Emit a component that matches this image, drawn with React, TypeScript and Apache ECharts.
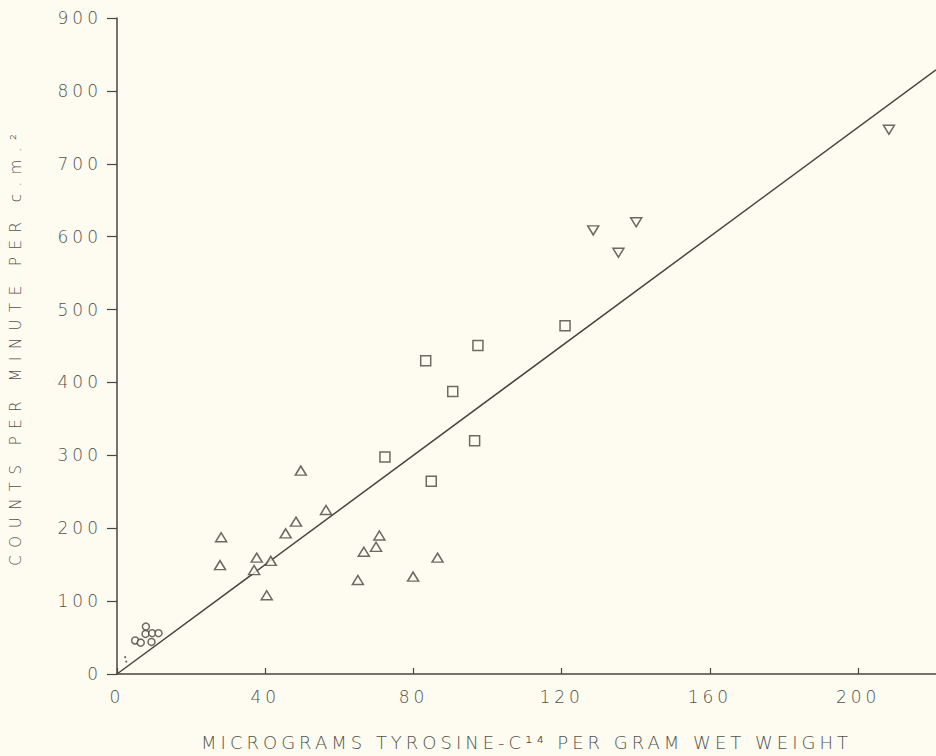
import React, { useEffect, useRef } from "react";
import * as echarts from "echarts";

const xTicks = [0, 40, 80, 120, 160, 200];
const yTicks = [0, 100, 200, 300, 400, 500, 600, 700, 800, 900];

const circleGroup: [number, number][] = [
  [7.8, 65], [7.7, 55], [9.5, 56], [11.2, 56], [4.9, 46], [6.4, 43], [9.3, 44],
];
const tinyDots: [number, number][] = [
  [2.2, 23], [2.5, 17],
];
const triangleGroup: [number, number][] = [
  [49.6, 279], [56.4, 225], [48.3, 209], [45.5, 193], [28.1, 187.6], [27.8, 149.4],
  [37.7, 159.6], [41.5, 155.2], [37.0, 142.6], [40.4, 108], [70.8, 190], [69.9, 174.5],
  [66.6, 167.7], [65.0, 129], [79.9, 133.6], [86.5, 159.6],
];
const squareGroup: [number, number][] = [
  [83.3, 429.6], [97.4, 450.7], [90.6, 387.7], [72.3, 297.8], [96.5, 320], [84.8, 264.5],
  [120.9, 477.7],
];
const invTriangleGroup: [number, number][] = [
  [128.5, 608.6], [140.1, 619.8], [135.3, 578], [208.3, 746.7],
];
const fitLine: [number, number][] = [
  [0, 0], [221, 829],
];

const BG = "#fefcf0";
const INK = "#464642";
const TXT = "#52524e";
const FONT = "DejaVu Sans";

export default function App() {
  const ref = useRef<HTMLDivElement>(null);
  useEffect(() => {
    if (!ref.current) return;
    const chart = echarts.init(ref.current, null, { renderer: "svg" });
    const markerStyle = {
      color: BG,
      borderColor: INK,
      borderWidth: 1.5,
    };
    chart.setOption({
      animation: false,
      backgroundColor: BG,
      grid: { left: 117, right: 0, top: 18, bottom: 71, containLabel: false },
      xAxis: {
        type: "value",
        min: 0,
        max: 221,
        interval: 40,
        name: "MICROGRAMS TYROSINE-C¹⁴ PER GRAM WET WEIGHT",
        nameLocation: "middle",
        nameGap: 59,
        nameTextStyle: { fontFamily: FONT, fontSize: 18, fontWeight: 200, color: TXT },
        axisLine: { show: true, lineStyle: { color: INK, width: 1.5 } },
        axisTick: { show: true, inside: true, length: 6, customValues: xTicks, lineStyle: { color: INK, width: 1.2 } },
        axisLabel: { customValues: xTicks, margin: 14, fontFamily: FONT, fontSize: 17, fontWeight: 200, color: TXT },
        splitLine: { show: false },
      },
      yAxis: {
        type: "value",
        min: 0,
        max: 900,
        interval: 100,
        name: "COUNTS PER MINUTE PER c.m.²",
        nameLocation: "middle",
        nameGap: 94,
        nameTextStyle: { fontFamily: FONT, fontSize: 15, fontWeight: 200, color: TXT },
        axisLine: { show: true, lineStyle: { color: INK, width: 1.5 } },
        axisTick: { show: true, inside: false, length: 10, customValues: yTicks, lineStyle: { color: INK, width: 1.2 } },
        axisLabel: { customValues: yTicks, margin: 15, fontFamily: FONT, fontSize: 17, fontWeight: 200, color: TXT },
        splitLine: { show: false },
      },
      series: [
        {
          type: "line",
          data: fitLine,
          symbol: "none",
          lineStyle: { color: INK, width: 1.5 },
          clip: true,
          z: 1,
        },
        {
          type: "scatter",
          data: circleGroup,
          symbol: "circle",
          symbolSize: 7,
          itemStyle: markerStyle,
          z: 3,
        },
        {
          type: "scatter",
          data: tinyDots,
          symbol: "circle",
          symbolSize: 2,
          itemStyle: { color: INK },
          z: 3,
        },
        {
          type: "scatter",
          data: triangleGroup,
          symbol: "triangle",
          symbolSize: [11, 9],
          itemStyle: markerStyle,
          z: 3,
        },
        {
          type: "scatter",
          data: squareGroup,
          symbol: "rect",
          symbolSize: 10,
          itemStyle: markerStyle,
          z: 3,
        },
        {
          type: "scatter",
          data: invTriangleGroup,
          symbol: "triangle",
          symbolRotate: 180,
          symbolSize: [11, 9],
          itemStyle: markerStyle,
          z: 3,
        },
      ],
    });
    const spaceOut = () => {
      if (!ref.current) return;
      ref.current.querySelectorAll("text").forEach((el) => {
        const t = el.textContent || "";
        let sp = "4px";
        if (t.startsWith("COUNTS")) sp = "7.5px";
        else if (t.startsWith("MICRO")) sp = "4px";
        (el as SVGTextElement).style.letterSpacing = sp;
      });
    };
    chart.on("finished", spaceOut);
    spaceOut();
    const timer = setTimeout(spaceOut, 50);
    return () => {
      clearTimeout(timer);
      chart.dispose();
    };
  }, []);
  return (
    <div
      ref={ref}
      style={{ position: "fixed", left: 0, top: 0, width: 936, height: 756 }}
    />
  );
}
